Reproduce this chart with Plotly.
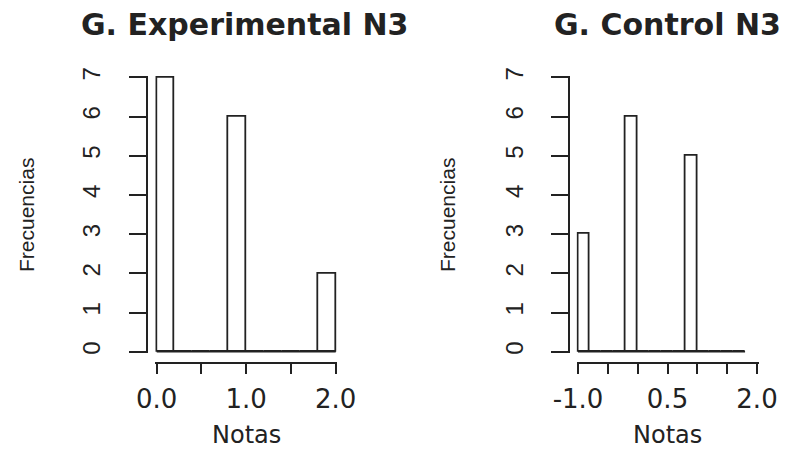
import plotly.graph_objects as go

# ---- data ----
exp_edges = [0.0, 0.2, 0.4, 0.6, 0.8, 1.0, 1.2, 1.4, 1.6, 1.8, 2.0]
exp_counts = [7, 0, 0, 0, 6, 0, 0, 0, 0, 2]
ctl_edges = [-1.0, -0.8, -0.6, -0.4, -0.2, 0.0, 0.2, 0.4, 0.6, 0.8, 1.0, 1.2, 1.4, 1.6, 1.8]
ctl_counts = [3, 0, 0, 0, 6, 0, 0, 0, 0, 5, 0, 0, 0, 0]
exp_xticks = [0.0, 0.5, 1.0, 1.5, 2.0]
exp_xlabels = ["0.0", "", "1.0", "", "2.0"]
ctl_xticks = [-1.0, -0.5, 0.0, 0.5, 1.0, 1.5, 2.0]
ctl_xlabels = ["-1.0", "", "", "0.5", "", "", "2.0"]
yticks = [0, 1, 2, 3, 4, 5, 6, 7]
titles = ["G. Experimental N3", "G. Control N3"]
xlab = "Notas"
ylab = "Frecuencias"

OFF = 8  # default page margin around the figure
W, H = 794 - OFF, 450 - OFF
LINE = "#222222"
HFONT = "DejaVu Sans"
VFONT = "Liberation Sans, Arial"


def px_x(p):
    return (p - OFF) / W


def px_y(p):
    return 1 - (p - OFF) / H


fig = go.Figure()


def add_hist(edges, counts, xa, ya):
    centers = [(edges[i] + edges[i + 1]) / 2 for i in range(len(counts))]
    widths = [edges[i + 1] - edges[i] for i in range(len(counts))]
    fig.add_trace(go.Bar(
        x=centers, y=counts, width=widths,
        marker=dict(color="white", line=dict(color=LINE, width=1.8)),
        xaxis=xa, yaxis=ya, cliponaxis=False, showlegend=False, hoverinfo="skip"))
    fig.add_trace(go.Scatter(
        x=[edges[0], edges[-1]], y=[0, 0], mode="lines",
        line=dict(color=LINE, width=1.8), xaxis=xa, yaxis=ya,
        cliponaxis=False, showlegend=False, hoverinfo="skip"))


add_hist(exp_edges, exp_counts, "x", "y")
add_hist(ctl_edges, ctl_counts, "x2", "y2")

# small padding so edge strokes are not clipped (in pixels)
PAD = 1.5


def xdomain(p0, p1, lo, hi):
    upp = (hi - lo) / (p1 - p0)
    return [px_x(p0 - PAD), px_x(p1 + PAD)], [lo - PAD * upp, hi + PAD * upp]


ybot, ytop = 351.7, 77.3
yupp = 7 / (ybot - ytop)
ydom = [px_y(ybot + PAD), px_y(ytop - PAD)]
yrng = [0 - PAD * yupp, 7 + PAD * yupp]

xd1, xr1 = xdomain(156.7, 335.7, 0, 2)
xd2, xr2 = xdomain(578, 757, -1, 2)

xaxis_common = dict(
    showgrid=False, zeroline=False, showline=True, linecolor=LINE, linewidth=1.8,
    ticks="outside", ticklen=10, tickwidth=1.8, tickcolor=LINE, automargin=False,
    tickfont=dict(family=HFONT, size=26, color="#222"),
    anchor="free", position=px_y(362.7), ticklabelstandoff=3)
yaxis_common = dict(
    showgrid=False, zeroline=False, showline=True, linecolor=LINE, linewidth=1.8,
    ticks="outside", ticklen=17, tickwidth=1.8, tickcolor=LINE, automargin=False,
    tickfont=dict(family=VFONT, size=24, color="#222"), tickangle=-90,
    range=yrng, tickvals=yticks, domain=ydom, anchor="free", ticklabelstandoff=19)

fig.update_layout(
    template="none",
    width=W, height=H, margin=dict(l=0, r=0, t=0, b=0, pad=0),
    plot_bgcolor="white", paper_bgcolor="white", bargap=0,
    xaxis=dict(xaxis_common, domain=xd1, range=xr1,
               tickvals=exp_xticks, ticktext=exp_xlabels),
    yaxis=dict(yaxis_common, position=px_x(146.7)),
    xaxis2=dict(xaxis_common, domain=xd2, range=xr2,
                tickvals=ctl_xticks, ticktext=ctl_xlabels),
    yaxis2=dict(yaxis_common, position=px_x(569)),
)

anns = [
    dict(text=f"<b>{titles[0]}</b>", x=px_x(244), y=px_y(25), font=dict(family=HFONT, size=30, color="#222")),
    dict(text=f"<b>{titles[1]}</b>", x=px_x(667), y=px_y(25), font=dict(family=HFONT, size=30, color="#222")),
    dict(text=xlab, x=px_x(246.7), y=px_y(435), font=dict(family=HFONT, size=24, color="#222")),
    dict(text=xlab, x=px_x(667), y=px_y(435), font=dict(family=HFONT, size=24, color="#222")),
    dict(text=ylab, x=px_x(26), y=px_y(215), textangle=-90, font=dict(family=VFONT, size=21, color="#222")),
    dict(text=ylab, x=px_x(447), y=px_y(215), textangle=-90, font=dict(family=VFONT, size=21, color="#222")),
]
for a in anns:
    a.update(xref="paper", yref="paper", showarrow=False, xanchor="center", yanchor="middle")
fig.update_layout(annotations=anns)

fig.write_html("out.html")
